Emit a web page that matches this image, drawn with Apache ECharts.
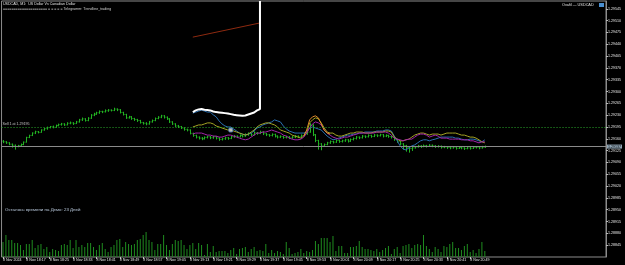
<!DOCTYPE html>
<html>
<head>
<meta charset="utf-8">
<script src="https://cdn.jsdelivr.net/npm/echarts@6/dist/echarts.min.js"></script>
<style>
html, body { margin: 0; padding: 0; background: #000; }
#main { width: 625px; height: 265px; }
</style>
</head>
<body>
<div id="main"></div>
<script>
// M1 bars, [open, close, low, high]
var priceBars = [
 [1.29153,1.29151,1.29147,1.29156],[1.29151,1.29148,1.29145,1.29153],[1.29148,1.29144,1.29141,1.29150],[1.29144,1.29141,1.29134,1.29146],
 [1.29141,1.29137,1.29128,1.29143],[1.29137,1.29140,1.29135,1.29142],[1.29140,1.29143,1.29138,1.29146],[1.29143,1.29150,1.29141,1.29152],
 [1.29150,1.29164,1.29149,1.29166],[1.29164,1.29170,1.29162,1.29172],[1.29170,1.29177,1.29168,1.29179],[1.29177,1.29181,1.29174,1.29184],
 [1.29181,1.29179,1.29176,1.29183],[1.29179,1.29186,1.29178,1.29188],[1.29186,1.29190,1.29184,1.29192],[1.29190,1.29193,1.29187,1.29196],
 [1.29193,1.29196,1.29191,1.29198],[1.29196,1.29194,1.29191,1.29199],[1.29194,1.29199,1.29193,1.29202],[1.29199,1.29202,1.29197,1.29205],
 [1.29202,1.29204,1.29199,1.29207],[1.29204,1.29201,1.29198,1.29206],[1.29201,1.29206,1.29200,1.29209],[1.29206,1.29207,1.29203,1.29211],
 [1.29207,1.29205,1.29201,1.29209],[1.29205,1.29210,1.29204,1.29213],[1.29210,1.29216,1.29208,1.29219],[1.29216,1.29219,1.29213,1.29223],
 [1.29219,1.29214,1.29211,1.29221],[1.29214,1.29221,1.29212,1.29224],[1.29221,1.29230,1.29219,1.29233],[1.29230,1.29233,1.29227,1.29237],
 [1.29233,1.29237,1.29231,1.29240],[1.29237,1.29241,1.29234,1.29244],[1.29241,1.29240,1.29236,1.29243],[1.29240,1.29243,1.29238,1.29247],
 [1.29243,1.29245,1.29240,1.29248],[1.29245,1.29244,1.29241,1.29247],[1.29244,1.29248,1.29242,1.29252],[1.29248,1.29246,1.29242,1.29250],
 [1.29246,1.29238,1.29235,1.29248],[1.29238,1.29232,1.29229,1.29240],[1.29232,1.29222,1.29219,1.29234],[1.29222,1.29225,1.29220,1.29228],
 [1.29225,1.29220,1.29216,1.29227],[1.29220,1.29217,1.29213,1.29222],[1.29217,1.29214,1.29210,1.29219],[1.29214,1.29208,1.29205,1.29216],
 [1.29208,1.29206,1.29202,1.29210],[1.29206,1.29204,1.29200,1.29209],[1.29204,1.29210,1.29202,1.29213],[1.29210,1.29214,1.29208,1.29217],
 [1.29214,1.29220,1.29212,1.29223],[1.29220,1.29224,1.29218,1.29227],[1.29224,1.29228,1.29221,1.29231],[1.29228,1.29224,1.29220,1.29230],
 [1.29224,1.29219,1.29216,1.29226],[1.29219,1.29210,1.29207,1.29221],[1.29210,1.29204,1.29201,1.29212],[1.29204,1.29198,1.29195,1.29206],
 [1.29198,1.29196,1.29192,1.29201],[1.29196,1.29192,1.29189,1.29198],[1.29192,1.29188,1.29184,1.29194],[1.29188,1.29186,1.29182,1.29190],
 [1.29186,1.29176,1.29173,1.29188],[1.29176,1.29170,1.29166,1.29178],[1.29170,1.29165,1.29161,1.29172],[1.29165,1.29162,1.29158,1.29167],
 [1.29162,1.29160,1.29156,1.29165],[1.29160,1.29164,1.29158,1.29167],[1.29164,1.29166,1.29161,1.29169],[1.29166,1.29163,1.29159,1.29168],
 [1.29163,1.29166,1.29160,1.29169],[1.29166,1.29162,1.29158,1.29168],[1.29162,1.29158,1.29154,1.29164],[1.29158,1.29160,1.29155,1.29163],
 [1.29160,1.29163,1.29157,1.29166],[1.29163,1.29161,1.29157,1.29165],[1.29161,1.29166,1.29159,1.29169],[1.29166,1.29168,1.29163,1.29171],
 [1.29168,1.29166,1.29162,1.29170],[1.29166,1.29170,1.29164,1.29173],[1.29170,1.29168,1.29164,1.29172],[1.29168,1.29172,1.29166,1.29176],
 [1.29172,1.29175,1.29169,1.29179],[1.29175,1.29172,1.29168,1.29177],[1.29172,1.29178,1.29170,1.29182],[1.29178,1.29176,1.29172,1.29180],
 [1.29176,1.29180,1.29174,1.29184],[1.29180,1.29175,1.29171,1.29182],[1.29175,1.29172,1.29168,1.29177],[1.29172,1.29170,1.29166,1.29174],
 [1.29170,1.29173,1.29167,1.29176],[1.29173,1.29168,1.29164,1.29175],[1.29168,1.29165,1.29161,1.29170],[1.29165,1.29167,1.29162,1.29170],
 [1.29167,1.29164,1.29160,1.29169],[1.29164,1.29166,1.29161,1.29169],[1.29166,1.29163,1.29159,1.29168],[1.29163,1.29165,1.29160,1.29168],
 [1.29165,1.29168,1.29162,1.29171],[1.29168,1.29166,1.29162,1.29170],[1.29166,1.29170,1.29164,1.29173],[1.29170,1.29174,1.29168,1.29177],
 [1.29174,1.29180,1.29172,1.29184],[1.29180,1.29200,1.29178,1.29206],[1.29200,1.29172,1.29168,1.29203],[1.29172,1.29155,1.29150,1.29174],
 [1.29155,1.29145,1.29128,1.29157],[1.29145,1.29139,1.29126,1.29147],[1.29139,1.29143,1.29136,1.29146],[1.29143,1.29148,1.29141,1.29151],
 [1.29148,1.29152,1.29145,1.29155],[1.29152,1.29150,1.29146,1.29154],[1.29150,1.29155,1.29148,1.29158],[1.29155,1.29152,1.29148,1.29157],
 [1.29152,1.29154,1.29149,1.29157],[1.29154,1.29157,1.29151,1.29160],[1.29157,1.29153,1.29149,1.29159],[1.29153,1.29158,1.29151,1.29161],
 [1.29158,1.29161,1.29155,1.29164],[1.29161,1.29165,1.29158,1.29168],[1.29165,1.29163,1.29159,1.29167],[1.29163,1.29168,1.29161,1.29171],
 [1.29168,1.29166,1.29162,1.29170],[1.29166,1.29170,1.29164,1.29173],[1.29170,1.29167,1.29163,1.29172],[1.29167,1.29171,1.29165,1.29174],
 [1.29171,1.29169,1.29165,1.29173],[1.29169,1.29172,1.29167,1.29175],[1.29172,1.29168,1.29164,1.29174],[1.29168,1.29170,1.29165,1.29173],
 [1.29170,1.29167,1.29163,1.29172],[1.29167,1.29165,1.29161,1.29169],[1.29165,1.29158,1.29154,1.29167],[1.29158,1.29152,1.29148,1.29160],
 [1.29152,1.29145,1.29141,1.29154],[1.29145,1.29140,1.29128,1.29147],[1.29140,1.29134,1.29122,1.29142],[1.29134,1.29131,1.29119,1.29136],
 [1.29131,1.29133,1.29124,1.29136],[1.29133,1.29136,1.29131,1.29139],[1.29136,1.29139,1.29134,1.29142],[1.29139,1.29137,1.29133,1.29141],
 [1.29137,1.29140,1.29135,1.29143],[1.29140,1.29138,1.29134,1.29142],[1.29138,1.29141,1.29136,1.29144],[1.29141,1.29139,1.29135,1.29143],
 [1.29139,1.29137,1.29133,1.29141],[1.29137,1.29138,1.29134,1.29141],[1.29138,1.29135,1.29131,1.29140],[1.29135,1.29136,1.29132,1.29139],
 [1.29136,1.29134,1.29130,1.29138],[1.29134,1.29133,1.29129,1.29137],[1.29133,1.29135,1.29131,1.29138],[1.29135,1.29132,1.29128,1.29137],
 [1.29132,1.29134,1.29130,1.29137],[1.29134,1.29133,1.29129,1.29137],[1.29133,1.29131,1.29127,1.29135],[1.29131,1.29133,1.29129,1.29136],
 [1.29133,1.29132,1.29128,1.29136],[1.29132,1.29134,1.29130,1.29137],[1.29134,1.29135,1.29131,1.29138],[1.29135,1.29133,1.29129,1.29137],
 [1.29133,1.29135,1.29131,1.29139],[1.29135,1.29137,1.29133,1.29140]
];

// tick volumes, one per bar
var volumes = [
 15,22,17,17,14,14,12,7,13,13,17,9,12,13,8,10,5,8,7,6,12,13,12,17,9,17,10,12,10,14,
 14,10,7,12,14,8,5,10,12,17,18,10,15,13,12,13,17,18,22,25,17,15,7,13,13,22,12,7,13,17,
 16,17,12,8,12,14,8,14,
 12,2,13,5,11,5,6,6,6,4,7,9,3,8,9,10,5,8,10,6,7,6,13,4,7,4,6,5,3,15,
 9,3,4,5,8,4,6,5,7,16,13,19,19,19,15,21,6,11,11,4,4,10,10,11,16,10,8,8,7,6,
 8,5,7,9,11,3,8,10,
 4,11,12,13,9,12,13,12,22,11,8,5,10,8,5,11,10,13,15,9,9,7,11,13,5,7,4,8,15,6
];

var totalSlots = 207;
var overlayStart = 65;

var blueLine = [
 1.29236,1.29239,1.29242,1.29245,1.29242,1.29239,1.29239,1.29231,1.29225,1.29213,
 1.29204,1.29198,1.29195,1.29195,1.29189,1.29183,1.29177,1.29174,1.29171,1.29174,
 1.29177,1.29183,1.29192,1.29195,1.29201,1.29204,1.29207,1.29210,1.29216,1.29213,
 1.29210,1.29198,1.29189,1.29183,1.29180,1.29177,1.29177,1.29177,1.29177,1.29180,
 1.29192,1.29195,1.29192,1.29189,1.29186,1.29177,1.29168,1.29162,1.29157,1.29159,
 1.29162,1.29165,1.29168,1.29171,1.29171,1.29174,1.29174,1.29177,1.29177,1.29180,
 1.29180,1.29180,1.29180,1.29183,1.29183,1.29183,1.29186,1.29186,1.29183,1.29168,
 1.29154,1.29139,1.29130,1.29127,1.29133,1.29139,1.29142,1.29148,1.29154,1.29157,
 1.29157,1.29154,1.29157,1.29159,1.29162,1.29165,1.29165,1.29165,1.29165,1.29165,
 1.29162,1.29162,1.29159,1.29157,1.29157,1.29159,1.29159,1.29157,1.29154,1.29151,1.29157
];
var oliveLine = [
 1.29195,1.29198,1.29201,1.29201,1.29204,1.29207,1.29207,1.29204,1.29198,1.29195,
 1.29192,1.29189,1.29186,1.29186,1.29183,1.29180,1.29177,1.29174,1.29171,1.29174,
 1.29180,1.29186,1.29195,1.29201,1.29204,1.29207,1.29207,1.29204,1.29201,1.29195,
 1.29186,1.29183,1.29180,1.29177,1.29171,1.29168,1.29165,1.29162,1.29168,1.29177,
 1.29207,1.29216,1.29222,1.29219,1.29207,1.29192,1.29180,1.29177,1.29177,1.29171,
 1.29168,1.29168,1.29171,1.29174,1.29177,1.29177,1.29180,1.29180,1.29180,1.29177,
 1.29177,1.29177,1.29180,1.29180,1.29180,1.29180,1.29183,1.29183,1.29180,1.29165,
 1.29159,1.29154,1.29154,1.29157,1.29159,1.29165,1.29171,1.29174,1.29177,1.29177,
 1.29174,1.29171,1.29174,1.29174,1.29174,1.29171,1.29174,1.29177,1.29177,1.29177,
 1.29177,1.29174,1.29171,1.29171,1.29168,1.29165,1.29165,1.29162,1.29157,1.29151,1.29148
];
var magentaLine = [
 1.29174,1.29177,1.29177,1.29177,1.29174,1.29171,1.29171,1.29168,1.29168,1.29165,
 1.29165,1.29168,1.29171,1.29171,1.29168,1.29165,1.29162,1.29159,1.29157,1.29159,
 1.29165,1.29171,1.29177,1.29177,1.29180,1.29180,1.29183,1.29186,1.29183,1.29180,
 1.29177,1.29171,1.29168,1.29162,1.29159,1.29157,1.29157,1.29159,1.29165,1.29177,
 1.29192,1.29204,1.29210,1.29207,1.29201,1.29186,1.29177,1.29171,1.29165,1.29162,
 1.29159,1.29162,1.29165,1.29165,1.29168,1.29171,1.29174,1.29177,1.29177,1.29177,
 1.29177,1.29177,1.29177,1.29180,1.29180,1.29180,1.29180,1.29177,1.29171,1.29162,
 1.29159,1.29157,1.29154,1.29157,1.29159,1.29159,1.29165,1.29171,1.29174,1.29174,
 1.29171,1.29165,1.29168,1.29171,1.29168,1.29162,1.29162,1.29162,1.29159,1.29159,
 1.29159,1.29159,1.29157,1.29157,1.29157,1.29154,1.29154,1.29151,1.29148,1.29151,1.29151
];
var orangeStart = 103;
var orangeLine = [1.29168,1.29186,1.29216,1.29225,1.29228,1.29222,1.29204,1.29186,1.29177,1.29174];

var whiteLine = [
 1.29239,1.29244,1.29247,1.29248,1.29246,1.29245,1.29244,1.29241,1.29239,1.29238,1.29237,1.29236,
 1.29235,1.29233,1.29231,1.29230,1.29229,1.29228,1.29229,1.29232,1.29235,1.29238,1.29244,1.29248
];
var redTrend = [[65, 1.29461], [88, 1.29503]];
var orderMark = [[78, 1.29186]];

var timeLabels = ['8 Nov 2024','8 Nov 18:17','8 Nov 18:25','8 Nov 18:33','8 Nov 18:41','8 Nov 18:49',
 '8 Nov 18:57','8 Nov 19:05','8 Nov 19:13','8 Nov 19:21','8 Nov 19:29','8 Nov 19:37','8 Nov 19:45',
 '8 Nov 19:53','8 Nov 20:01','8 Nov 20:09','8 Nov 20:17','8 Nov 20:25','8 Nov 20:33','8 Nov 20:41','8 Nov 20:49'];
var priceTicks = [1.28845,1.28880,1.28915,1.28950,1.28985,1.29020,1.29055,1.29090,1.29125,1.29160,
 1.29195,1.29230,1.29265,1.29300,1.29335,1.29370,1.29405,1.29440,1.29475,1.29510,1.29545];
var priceMin = 1.28810, priceMax = 1.29568;
var bidPrice = 1.29137;
var orderPrice = 1.29195;

var FONT = 'Liberation Sans';
var slots = [];
for (var s = 0; s < totalSlots; s++) slots.push(s);

function pairs(arr, start) {
    return arr.map(function (v, k) { return [start + k, v]; });
}

var ohlcData = priceBars.map(function (b, i) { return [i, b[0], b[1], b[2], b[3]]; });
var whiteData = pairs(whiteLine, overlayStart);
whiteData.push([overlayStart + whiteLine.length - 1, priceMax]);

function showTime(index) { return index % 8 === 0 && index / 8 < timeLabels.length; }

var myChart = echarts.init(document.getElementById('main'));

var option = {
    backgroundColor: '#000',
    animation: false,
    grid: {left: 1, right: 19, top: 1, bottom: 8, show: true, borderColor: '#8c8c8c', borderWidth: 1, backgroundColor: 'transparent'},
    xAxis: {
        type: 'category',
        data: slots,
        boundaryGap: true,
        axisLine: {show: false},
        axisTick: {show: true, interval: showTime, alignWithLabel: true, length: 2, lineStyle: {color: '#bbb'}},
        axisLabel: {
            interval: showTime,
            align: 'left',
            margin: 1,
            color: '#e8e8e8',
            fontSize: 3.6,
            fontFamily: FONT,
            formatter: function (v, index) { return showTime(index) ? timeLabels[index / 8] : ''; }
        },
        splitLine: {show: false}
    },
    yAxis: [{
        type: 'value',
        position: 'right',
        min: priceMin,
        max: priceMax,
        axisLine: {show: true, lineStyle: {color: '#8c8c8c'}},
        axisTick: {show: true, length: 2, customValues: priceTicks, lineStyle: {color: '#bbb'}},
        axisLabel: {
            customValues: priceTicks, margin: 2, color: '#e8e8e8', fontSize: 3.6, fontFamily: FONT,
            formatter: function (v) { return v.toFixed(5); }
        },
        splitLine: {show: false}
    }, {
        type: 'value', min: 0, max: 256, show: false
    }],
    graphic: [
        {type: 'text', left: 3, top: 2, style: {text: 'USDCAD, M1:  US Dollar Vs Canadian Dollar', fill: '#e0e0e0', fontSize: 3.6, fontFamily: FONT}},
        {type: 'text', left: 3, top: 7, style: {text: '===================== = = = = = Telegramm: Trendline_trading', fill: '#d0d0d0', fontSize: 3.6, fontFamily: FONT}},
        {type: 'text', left: 562, top: 3, style: {text: 'Ovafil — USDCAD', fill: '#e0e0e0', fontSize: 3.8, fontFamily: FONT}},
        {type: 'rect', left: 599, top: 3, shape: {width: 5, height: 4}, style: {fill: '#4a8fd0'}},
        {type: 'text', left: 5, top: 208, style: {text: 'Осталось времени на Демо: 23 Дней', fill: '#b9c9dc', fontSize: 4.4, fontFamily: FONT}}
    ],
    series: [
        {
            name: 'Volume', type: 'bar', yAxisIndex: 1, data: volumes, barWidth: 1,
            itemStyle: {color: '#1f8c1f'}, z: 1, silent: true
        },
        {
            name: 'USDCAD', type: 'custom', data: ohlcData, z: 3,
            encode: {x: 0, y: [1, 2, 3, 4]},
            renderItem: function (params, api) {
                var i = api.value(0);
                var x = Math.round(api.coord([i, api.value(1)])[0]) + 0.5;
                var yo = api.coord([i, api.value(1)])[1];
                var yc = api.coord([i, api.value(2)])[1];
                var yl = api.coord([i, api.value(3)])[1];
                var yh = api.coord([i, api.value(4)])[1];
                var st = {stroke: '#22b322', lineWidth: 1};
                return {type: 'group', children: [
                    {type: 'line', shape: {x1: x, y1: yl, x2: x, y2: yh}, style: st},
                    {type: 'line', shape: {x1: x - 1, y1: yo, x2: x, y2: yo}, style: st},
                    {type: 'line', shape: {x1: x, y1: yc, x2: x + 1, y2: yc}, style: st}
                ]};
            }
        },
        {
            name: 'Trend', type: 'line', data: redTrend, symbol: 'none', z: 4, lineStyle: {color: '#8e2a10', width: 1},
            markLine: {
                silent: true, symbol: 'none', animation: false, precision: 5,
                data: [
                    {yAxis: bidPrice, lineStyle: {color: '#8a8a8a', type: 'solid', width: 1},
                     label: {show: true, position: 'end', distance: 1, formatter: bidPrice.toFixed(5), color: '#000',
                             backgroundColor: '#8fa4b4', padding: [0, 1], fontSize: 3.6, fontFamily: FONT}},
                    {yAxis: orderPrice, lineStyle: {color: '#2aa82a', type: [1, 2], width: 1},
                     label: {show: true, position: 'insideStartTop', distance: 1, formatter: 'Sell 1 at ' + orderPrice.toFixed(5),
                             color: '#c8c8c8', fontSize: 3.6, fontFamily: FONT}}
                ]
            }
        },
        {name: 'Blue', type: 'line', data: pairs(blueLine, overlayStart), symbol: 'none', z: 4, lineStyle: {color: '#2a6fb0', width: 1}},
        {name: 'Olive', type: 'line', data: pairs(oliveLine, overlayStart), symbol: 'none', z: 4, lineStyle: {color: '#a4a424', width: 1}},
        {name: 'Magenta', type: 'line', data: pairs(magentaLine, overlayStart), symbol: 'none', z: 4, lineStyle: {color: '#a224a8', width: 1}},
        {name: 'Orange', type: 'line', data: pairs(orangeLine, orangeStart), symbol: 'none', z: 4, lineStyle: {color: '#e08a2a', width: 1}},
        {name: 'White', type: 'line', data: whiteData, symbol: 'none', z: 5, lineStyle: {color: '#ffffff', width: 2}},
        {name: 'Order', type: 'scatter', data: orderMark, symbol: 'roundRect', symbolSize: 4, z: 6,
         itemStyle: {color: '#dcdcdc', borderColor: '#4a80c0', borderWidth: 1}}
    ]
};

myChart.setOption(option);
</script>
</body>
</html>
